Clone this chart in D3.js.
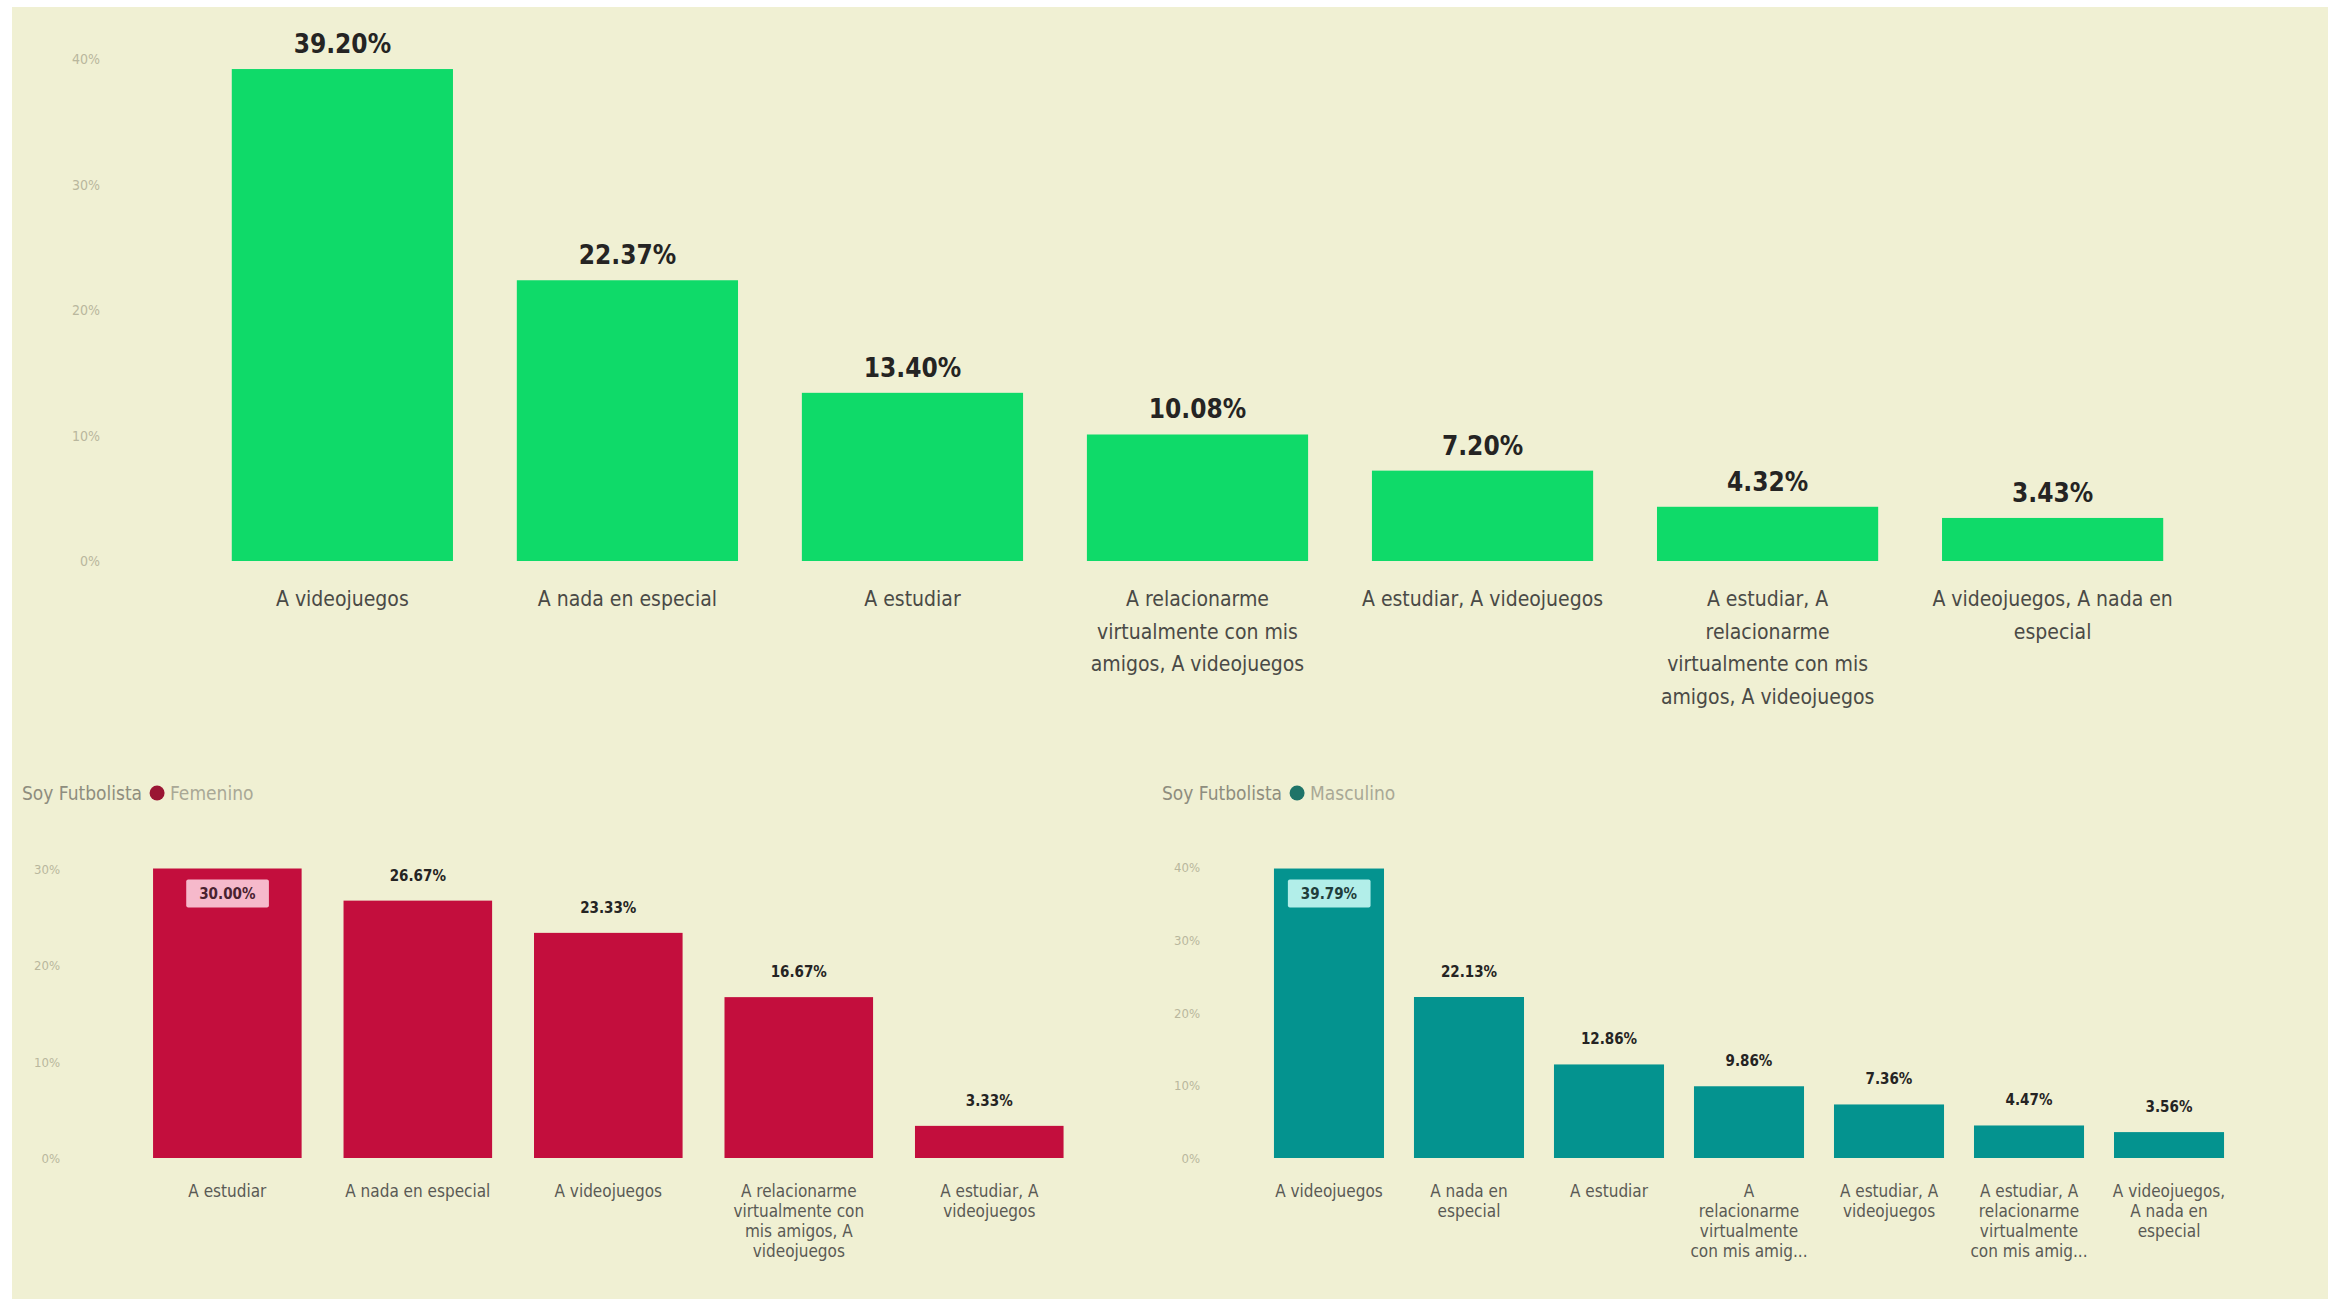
<!DOCTYPE html>
<html>
<head>
<meta charset="utf-8">
<script src="https://cdn.jsdelivr.net/npm/d3@7"></script>
<style>
  html, body { margin: 0; padding: 0; background: #ffffff; }
  svg { display: block; }
</style>
</head>
<body>
<svg id="chart" width="2328" height="1299"></svg>
<script>
// ---------- DATA ----------
const topCategories = [
  "A videojuegos",
  "A nada en especial",
  "A estudiar",
  "A relacionarme virtualmente con mis amigos, A videojuegos",
  "A estudiar, A videojuegos",
  "A estudiar, A relacionarme virtualmente con mis amigos, A videojuegos",
  "A videojuegos, A nada en especial"
];
const topValues = [39.20, 22.37, 13.40, 10.08, 7.20, 4.32, 3.43];
const topTickLines = [
  ["A videojuegos"],
  ["A nada en especial"],
  ["A estudiar"],
  ["A relacionarme", "virtualmente con mis", "amigos, A videojuegos"],
  ["A estudiar, A videojuegos"],
  ["A estudiar, A", "relacionarme", "virtualmente con mis", "amigos, A videojuegos"],
  ["A videojuegos, A nada en", "especial"]
];
const topYTicks = [0, 10, 20, 30, 40];

const femCategories = [
  "A estudiar",
  "A nada en especial",
  "A videojuegos",
  "A relacionarme virtualmente con mis amigos, A videojuegos",
  "A estudiar, A videojuegos"
];
const femValues = [30.00, 26.67, 23.33, 16.67, 3.33];
const femTickLines = [
  ["A estudiar"],
  ["A nada en especial"],
  ["A videojuegos"],
  ["A relacionarme", "virtualmente con", "mis amigos, A", "videojuegos"],
  ["A estudiar, A", "videojuegos"]
];
const femYTicks = [0, 10, 20, 30];

const mascCategories = [
  "A videojuegos",
  "A nada en especial",
  "A estudiar",
  "A relacionarme virtualmente con mis amigos, A videojuegos",
  "A estudiar, A videojuegos",
  "A estudiar, A relacionarme virtualmente con mis amigos, A videojuegos",
  "A videojuegos, A nada en especial"
];
const mascValues = [39.79, 22.13, 12.86, 9.86, 7.36, 4.47, 3.56];
const mascTickLines = [
  ["A videojuegos"],
  ["A nada en", "especial"],
  ["A estudiar"],
  ["A", "relacionarme", "virtualmente", "con mis amig..."],
  ["A estudiar, A", "videojuegos"],
  ["A estudiar, A", "relacionarme", "virtualmente", "con mis amig..."],
  ["A videojuegos,", "A nada en", "especial"]
];
const mascYTicks = [0, 10, 20, 30, 40];

const legendTitle = "Soy Futbolista";
const femLegend = "Femenino";
const mascLegend = "Masculino";

// ---------- DRAWING ----------
const svg = d3.select("#chart");
const FONT = "'DejaVu Sans Condensed', 'Liberation Sans Narrow', 'Roboto Condensed', 'DejaVu Sans', sans-serif";

svg.append("rect").attr("x", 12).attr("y", 7).attr("width", 2316).attr("height", 1292)
  .attr("fill", "#F0F0D3");

function barChart(opts) {
  const g = svg.append("g");
  const x = d3.scaleBand().domain(opts.categories)
    .range(opts.xRange).paddingInner(opts.pi).paddingOuter(opts.po);
  const y = d3.scaleLinear().domain(opts.yDomain).range(opts.yRange);

  // y axis
  const yAxis = d3.axisLeft(y).tickValues(opts.yTicks).tickSize(0).tickPadding(0)
    .tickFormat(d => d + "%");
  const ya = g.append("g").attr("transform", `translate(${opts.yAxisX},0)`).call(yAxis);
  ya.select(".domain").remove();
  ya.selectAll("text").attr("fill", opts.yTickColor).attr("font-size", opts.yTickSize)
    .attr("font-family", FONT).attr("dy", "0.35em");

  // bars
  g.selectAll("rect.bar").data(opts.values).join("rect").attr("class", "bar")
    .attr("x", (d, i) => x(opts.categories[i]))
    .attr("width", x.bandwidth())
    .attr("y", d => y(d))
    .attr("height", d => y(0) - y(d))
    .attr("fill", opts.color);

  // x axis (tick labels with explicit lines)
  const xAxis = d3.axisBottom(x).tickSize(0).tickFormat("");
  const xa = g.append("g").attr("transform", `translate(0,${y(0)})`).call(xAxis);
  xa.select(".domain").remove();
  xa.selectAll(".tick").each(function(d, i) {
    const t = d3.select(this).append("text")
      .attr("text-anchor", "middle")
      .attr("fill", opts.xTickColor)
      .attr("font-size", opts.xTickSize)
      .attr("font-family", FONT);
    opts.tickLines[i].forEach((ln, k) => {
      t.append("tspan").attr("x", 0).attr("y", opts.xTickY + k * opts.xLineH).text(ln);
    });
  });

  // value labels
  const maxV = d3.max(opts.values);
  opts.values.forEach((v, i) => {
    const cx = x(opts.categories[i]) + x.bandwidth() / 2;
    const inside = opts.insideMax && v === maxV;
    if (inside) {
      const ty = y(v) + opts.insideOffset;
      const t = g.append("text").attr("x", cx).attr("y", ty)
        .attr("text-anchor", "middle").attr("font-weight", "bold")
        .attr("font-size", opts.labelSize).attr("font-family", FONT)
        .attr("fill", opts.insideText)
        .text(v.toFixed(2) + "%");
      const bb = t.node().getBBox();
      g.insert("rect", function() { return t.node(); })
        .attr("x", bb.x - 13).attr("y", bb.y - 5)
        .attr("width", bb.width + 26).attr("height", bb.height + 10)
        .attr("rx", 2).attr("fill", opts.insideBox);
    } else {
      g.append("text").attr("x", cx).attr("y", y(v) - opts.labelGap)
        .attr("text-anchor", "middle").attr("font-weight", "bold")
        .attr("font-size", opts.labelSize).attr("font-family", FONT)
        .attr("fill", "#252423")
        .text(v.toFixed(2) + "%");
    }
  });
  return g;
}

// Top chart
barChart({
  categories: topCategories, values: topValues, tickLines: topTickLines,
  xRange: [140, 2255], pi: 0.224, po: 0.322,
  yDomain: [0, 40], yRange: [561, 59], yTicks: topYTicks, yAxisX: 100,
  yTickColor: "#B9B79D", yTickSize: 14,
  color: "#0FDA69",
  xTickY: 45, xLineH: 32.5, xTickSize: 21, xTickColor: "#4A4A46",
  labelSize: 26, labelGap: 16, insideMax: false
});

// Bottom-left chart (Femenino)
barChart({
  categories: femCategories, values: femValues, tickLines: femTickLines,
  xRange: [110, 1106.6], pi: 0.22, po: 0.226,
  yDomain: [0, 30], yRange: [1158, 868.5], yTicks: femYTicks, yAxisX: 60,
  yTickColor: "#B9B79D", yTickSize: 13,
  color: "#C30E3D",
  xTickY: 39, xLineH: 20, xTickSize: 17, xTickColor: "#5A5A55",
  labelSize: 15, labelGap: 20, insideMax: true, insideOffset: 30,
  insideBox: "#F6B9CB", insideText: "#4A2230"
});

// Bottom-right chart (Masculino)
barChart({
  categories: mascCategories, values: mascValues, tickLines: mascTickLines,
  xRange: [1230, 2268], pi: 0.214, po: 0.314,
  yDomain: [0, 40], yRange: [1158, 867], yTicks: mascYTicks, yAxisX: 1200,
  yTickColor: "#B9B79D", yTickSize: 13,
  color: "#04938F",
  xTickY: 39, xLineH: 20, xTickSize: 17, xTickColor: "#5A5A55",
  labelSize: 15, labelGap: 20, insideMax: true, insideOffset: 30,
  insideBox: "#B2EEE9", insideText: "#1F3D3B"
});

// Legends
function legend(x0, dotColor, label) {
  const g = svg.append("g").attr("font-family", FONT);
  const t = g.append("text").attr("x", x0).attr("y", 800).attr("font-size", 19)
    .attr("fill", "#8E8D7E").text(legendTitle);
  const w = t.node().getComputedTextLength();
  g.append("circle").attr("cx", x0 + w + 15).attr("cy", 793).attr("r", 7.5).attr("fill", dotColor);
  g.append("text").attr("x", x0 + w + 28).attr("y", 800).attr("font-size", 19)
    .attr("fill", "#A9A896").text(label);
}
legend(22, "#9A1634", femLegend);
legend(1162, "#1F7468", mascLegend);
</script>
</body>
</html>
